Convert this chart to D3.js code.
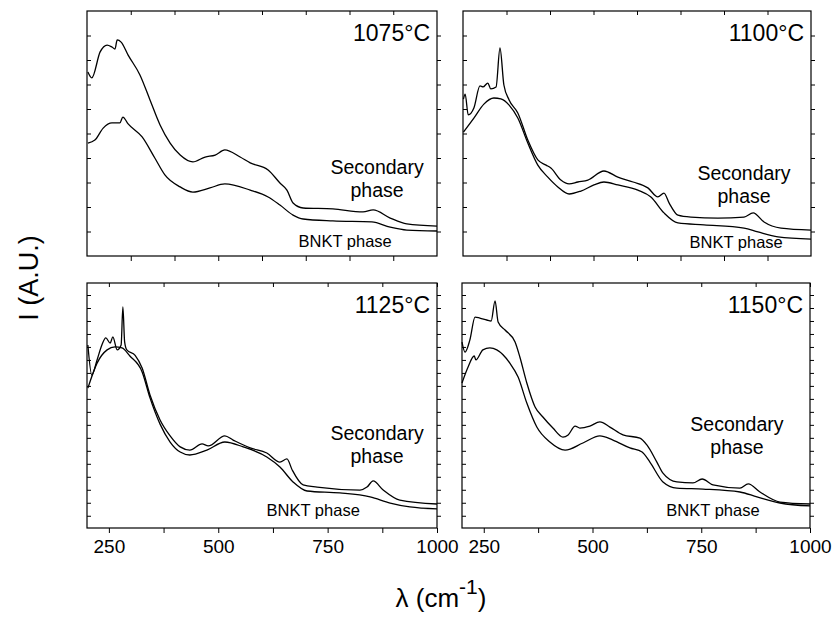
<!DOCTYPE html>
<html>
<head>
<meta charset="utf-8">
<script src="https://cdn.jsdelivr.net/npm/d3@7"></script>
<style>
  html, body { margin: 0; padding: 0; background: #fff; }
  svg { display: block; }
  text { font-family: "Liberation Sans", Arial, Helvetica, sans-serif; fill: #000; }
</style>
</head>
<body>
<svg id="chart" width="833" height="619"></svg>
<script>
// ---------------- DATA ----------------
const temperatures = ["1075°C", "1100°C", "1125°C", "1150°C"];
const xDomain = [200, 1000];
const xLabelTicks = [250, 500, 750, 1000];
const xTicksBottomRow = [250, 375, 500, 625, 750, 875, 1000];
const xTicksTopRow = [300, 400, 500, 600, 700, 800, 900];
const xTitle = "λ (cm";
const yTitle = "I (A.U.)";
const secondaryLabel = ["Secondary", "phase"];
const bnktLabel = "BNKT phase";

// 1075 °C
const wn1075Sec = [202,211,230,246,257,264,269,278,294,321,344,367,390,413,442,470,493,515,550,573,614,641,657,671,694,762,831,854,893,931,1000];
const int1075Sec = [75.1,72.7,83.3,86.1,85.3,84.5,88.2,87.3,82.0,73.9,63.7,53.5,46.1,41.2,38.4,40.4,41.2,43.3,40.4,38.0,35.1,29.8,26.9,21.6,19.6,19.2,18.0,18.8,15.5,13.1,12.2];
const wn1075Bnkt = [202,218,237,257,275,282,294,326,355,378,413,442,481,515,573,614,641,671,694,762,851,893,931,1000];
const int1075Bnkt = [46.1,47.3,52.2,54.3,54.3,56.7,53.9,48.6,40.0,33.1,28.2,26.1,27.8,29.4,26.9,24.1,20.8,16.7,15.1,14.3,13.9,11.8,10.6,10.2];

// 1100 °C
const wn1100Sec = [201,205,212,225,239,246,257,264,276,285,294,306,326,349,372,391,402,425,444,464,487,524,556,591,625,648,662,674,694,724,786,846,867,892,931,1000];
const int1100Sec = [64.0,66.1,57.6,60.4,69.4,69.0,70.6,68.2,69.0,84.9,69.8,63.7,58.4,47.3,39.2,37.1,35.9,31.0,29.4,30.2,31.0,34.7,32.2,30.2,27.8,24.1,25.7,21.6,16.7,15.9,15.5,15.9,17.6,13.9,11.4,10.6];
const wn1100Bnkt = [201,225,248,271,287,306,326,349,372,395,418,444,471,501,524,556,602,632,662,694,754,846,878,924,1000];
const int1100Bnkt = [50.6,56.3,62.0,64.5,64.1,61.6,56.3,46.1,37.1,32.2,28.2,25.3,26.5,29.0,30.2,29.0,26.9,24.1,17.6,13.5,12.7,11.4,9.8,7.8,6.9];

// 1125 °C
const wn1125Sec = [202,211,223,234,243,253,259,269,278,282,286,291,310,326,344,367,390,413,435,463,477,515,534,573,611,641,657,669,694,726,824,840,854,877,915,1000];
const int1125Sec = [74.7,62.4,68.6,74.7,77.6,75.5,78.0,72.7,74.7,90.2,76.0,72.7,70.5,65.3,54.3,44.1,37.6,33.1,31.8,34.3,33.5,37.6,35.9,32.7,30.6,26.9,28.2,23.7,17.6,16.7,15.5,16.7,19.2,15.5,11.4,9.8];
const wn1125Bnkt = [202,223,246,264,280,298,326,344,367,390,413,435,474,515,557,611,641,671,703,778,847,893,938,1000];
const int1125Bnkt = [57.1,67.3,72.7,73.9,73.5,70.2,63.7,53.1,42.4,35.1,31.0,29.8,31.8,35.1,33.1,29.0,24.9,18.8,15.1,14.3,12.7,10.2,8.6,7.8];

// 1150 °C
const wn1150Sec = [200,207,218,230,241,257,267,276,283,299,322,333,349,368,386,409,432,444,460,471,494,517,540,570,609,625,648,662,694,731,752,777,839,858,885,931,1000];
const int1150Sec = [75.9,71.8,76.7,86.1,85.7,84.9,84.5,92.7,84.1,80.8,75.9,69.8,59.2,49.4,45.3,40.8,37.1,38.0,41.6,40.8,41.6,43.3,41.2,38.0,36.7,33.9,26.9,22.4,18.8,18.4,20.0,17.6,16.3,18.0,14.7,10.6,9.8];
const wn1150Bnkt = [200,214,228,232,248,264,280,310,329,349,372,402,437,478,517,547,586,614,632,662,694,754,839,878,931,1000];
const int1150Bnkt = [59.2,65.7,70.2,68.6,72.7,73.5,72.7,67.3,61.6,51.0,41.2,35.1,31.8,34.7,37.6,35.9,32.7,31.0,26.9,18.8,16.3,15.9,14.7,12.7,10.2,9.0];

// ---------------- LAYOUT (positions / sizes) ----------------
const panels = [
  { name: temperatures[0], wnS: wn1075Sec, iS: int1075Sec, wnB: wn1075Bnkt, iB: int1075Bnkt,
    box: {l: 87, r: 437, t: 11, b: 256}, row: 0, sec: [863, 33.5], bnkt: [790, 3.8] },
  { name: temperatures[1], wnS: wn1100Sec, iS: int1100Sec, wnB: wn1100Bnkt, iB: int1100Bnkt,
    box: {l: 463, r: 811, t: 11, b: 256}, row: 0, sec: [846, 31.0], bnkt: [828, 3.3] },
  { name: temperatures[2], wnS: wn1125Sec, iS: int1125Sec, wnB: wn1125Bnkt, iB: int1125Bnkt,
    box: {l: 87, r: 437, t: 283, b: 528}, row: 1, sec: [863, 36.0], bnkt: [717, 4.9] },
  { name: temperatures[3], wnS: wn1150Sec, iS: int1150Sec, wnB: wn1150Bnkt, iB: int1150Bnkt,
    box: {l: 462, r: 810, t: 283, b: 528}, row: 1, sec: [832, 39.6], bnkt: [777, 4.9] }
];

const svg = d3.select("#chart");
const FONT = "'Liberation Sans', Arial, sans-serif";

panels.forEach(p => {
  const x = d3.scaleLinear().domain(xDomain).range([p.box.l, p.box.r]);
  const y = d3.scaleLinear().domain([0, 100]).range([p.box.b, p.box.t]);
  const g = svg.append("g");

  const xt = p.row === 0 ? xTicksTopRow : xTicksBottomRow;
  const yt = p.row === 0 ? d3.range(10, 91, 10) : d3.range(5, 96, 5.3);

  // bottom axis
  const bAx = d3.axisBottom(x).tickValues(xt).tickSizeInner(5).tickSizeOuter(0).tickPadding(7)
    .tickFormat(d => (p.row === 1 && xLabelTicks.includes(d)) ? d : "");
  g.append("g").attr("transform", `translate(0,${p.box.b})`).call(bAx)
    .call(a => a.select(".domain").remove())
    .call(a => a.selectAll("text").attr("font-size", 19).attr("font-family", FONT).attr("fill", "#000"));
  // top axis
  g.append("g").attr("transform", `translate(0,${p.box.t})`)
    .call(d3.axisTop(x).tickValues(xt).tickSizeInner(-4).tickSizeOuter(0).tickFormat(""))
    .call(a => a.select(".domain").remove());
  // left axis
  g.append("g").attr("transform", `translate(${p.box.l},0)`)
    .call(d3.axisLeft(y).tickValues(yt).tickSizeInner(-4).tickSizeOuter(0).tickFormat(""))
    .call(a => a.select(".domain").remove());
  // right axis
  g.append("g").attr("transform", `translate(${p.box.r},0)`)
    .call(d3.axisRight(y).tickValues(yt).tickSizeInner(4).tickSizeOuter(0).tickFormat(""))
    .call(a => a.select(".domain").remove());
  g.selectAll(".tick line").attr("stroke", "#000").attr("stroke-width", 1);

  // frame
  g.append("rect").attr("x", p.box.l).attr("y", p.box.t)
    .attr("width", p.box.r - p.box.l).attr("height", p.box.b - p.box.t)
    .attr("fill", "none").attr("stroke", "#000").attr("stroke-width", 1.2);

  const line = d3.line().x(d => x(d[0])).y(d => y(d[1])).curve(d3.curveMonotoneX);
  const sec = p.wnS.map((w, i) => [w, p.iS[i]]);
  const bn = p.wnB.map((w, i) => [w, p.iB[i]]);
  g.append("path").datum(bn).attr("d", line).attr("fill", "none").attr("stroke", "#000").attr("stroke-width", 1.3);
  g.append("path").datum(sec).attr("d", line).attr("fill", "none").attr("stroke", "#000").attr("stroke-width", 1.3);

  // temperature label
  g.append("text").attr("x", p.box.r - 7).attr("y", p.box.t + 30)
    .attr("text-anchor", "end").attr("font-size", 23).text(p.name);
  // secondary phase label
  const st = g.append("text").attr("text-anchor", "middle").attr("font-size", 19.5);
  st.append("tspan").attr("x", x(p.sec[0])).attr("y", y(p.sec[1])).text(secondaryLabel[0]);
  st.append("tspan").attr("x", x(p.sec[0])).attr("y", y(p.sec[1]) + 23).text(secondaryLabel[1]);
  // BNKT label
  g.append("text").attr("x", x(p.bnkt[0])).attr("y", y(p.bnkt[1]))
    .attr("text-anchor", "middle").attr("font-size", 16.5).text(bnktLabel);
});

// axis titles
const xt = svg.append("text").attr("x", 441).attr("y", 607).attr("text-anchor", "middle").attr("font-size", 26);
xt.append("tspan").text(xTitle);
xt.append("tspan").attr("dy", -13).attr("font-size", 21).text("-1");
xt.append("tspan").attr("dy", 13).text(")");

svg.append("text").attr("transform", "translate(38,278) rotate(-90)")
  .attr("text-anchor", "middle").attr("font-size", 27).text(yTitle);
</script>
</body>
</html>
